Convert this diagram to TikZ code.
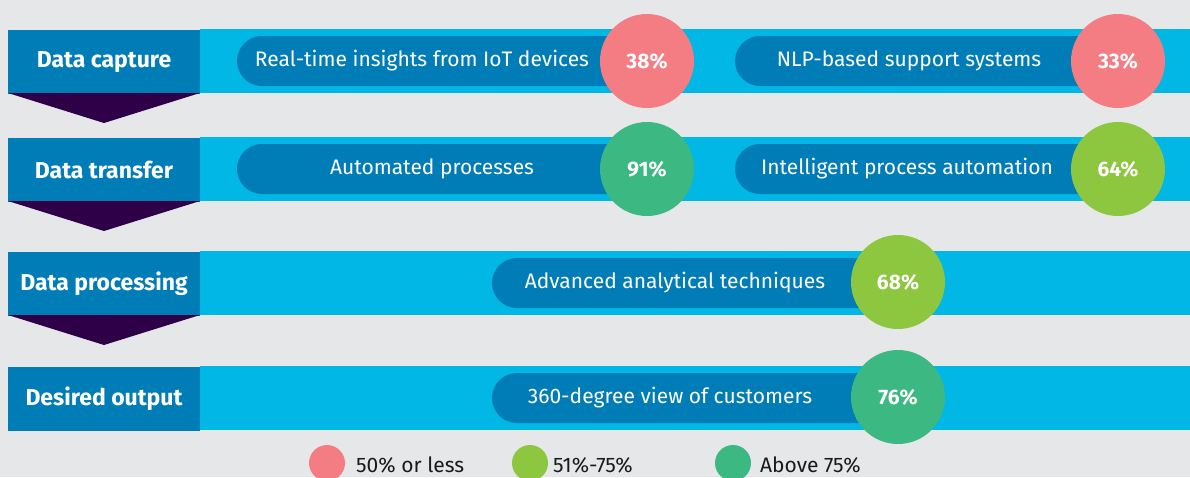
\documentclass[tikz,border=0pt]{standalone}
\usepackage{fontspec}
\setmainfont{Fira Sans}
\definecolor{bgc}{HTML}{E6E7E9}
\definecolor{bandc}{HTML}{00B7E6}
\definecolor{darkb}{HTML}{007CB7}
\definecolor{purp}{HTML}{2E0048}
\definecolor{pinkc}{HTML}{F47D84}
\definecolor{limec}{HTML}{8DC63F}
\definecolor{tealc}{HTML}{3CB882}
\definecolor{txtc}{HTML}{1A1A1A}
\tikzset{
  band/.style={fill=bandc},
  labelbox/.style={fill=darkb, text=white, minimum width=192pt, minimum height=64pt, inner sep=0pt, font=\fontsize{23}{26}\selectfont\bfseries},
  tri/.style={fill=purp},
  pill/.style={fill=darkb, rounded corners=25pt},
  pilltext/.style={text=white, inner sep=0pt, font=\fontsize{21}{24}\selectfont},
  circ/.style={circle, minimum size=94pt, inner sep=0pt, text=white, font=\fontsize{21}{24}\selectfont\bfseries},
  legc/.style={circle, minimum size=36pt, inner sep=0pt},
  legt/.style={anchor=west, text=txtc, inner sep=0pt, font=\fontsize{21}{24}\selectfont}
}
\begin{document}
\begin{tikzpicture}[x=1pt,y=-1pt]
\fill[bgc] (0,0) rectangle (1190,477);
\useasboundingbox (0,0) rectangle (1190,477);
% row 1
\fill[band] (200,29) rectangle (1190,93);
\node[labelbox] (l1) at (104,62) {Data capture};
\fill[tri] (8,93) -- (200,93) -- (104,123) -- cycle;
\fill[pill] (237,36) rectangle (660,86);
\node[pilltext] (p1a) at (422,61) {Real-time insights from IoT devices};
\node[circ, fill=pinkc] (c1a) at (647,61) {38\%};
\fill[pill] (735,36) rectangle (1130,86);
\node[pilltext] (p1b) at (909,61) {NLP-based support systems};
\node[circ, fill=pinkc] (c1b) at (1118,61) {33\%};
% row 2
\fill[band] (200,137) rectangle (1190,201);
\node[labelbox] (l2) at (104,170) {Data transfer};
\fill[tri] (8,201) -- (200,201) -- (104,231) -- cycle;
\fill[pill] (237,144) rectangle (660,194);
\node[pilltext] (p2a) at (432,169) {Automated processes};
\node[circ, fill=tealc] (c2a) at (647,169) {91\%};
\fill[pill] (735,144) rectangle (1130,194);
\node[pilltext] (p2b) at (907,169) {Intelligent process automation};
\node[circ, fill=limec] (c2b) at (1118,169) {64\%};
% row 3
\fill[band] (200,251) rectangle (1190,315);
\node[labelbox] (l3) at (104,284) {Data processing};
\fill[tri] (8,315) -- (200,315) -- (104,345) -- cycle;
\fill[pill] (492,258) rectangle (910,308);
\node[pilltext] (p3) at (675,283) {Advanced analytical techniques};
\node[circ, fill=limec] (c3) at (898,282) {68\%};
% row 4
\fill[band] (200,366) rectangle (1190,430);
\node[labelbox] (l4) at (104,399) {Desired output};
\fill[pill] (492,373) rectangle (910,423);
\node[pilltext] (p4) at (670,398) {360-degree view of customers};
\node[circ, fill=tealc] (c4) at (898,397) {76\%};
% legend
\node[legc, fill=pinkc] (g1) at (327,463) {};
\node[legt] (t1) at (356,465) {50\% or less};
\node[legc, fill=limec] (g2) at (530,463) {};
\node[legt] (t2) at (553,465) {51\%-75\%};
\node[legc, fill=tealc] (g3) at (733,463) {};
\node[legt] (t3) at (760,465) {Above 75\%};
\end{tikzpicture}
\end{document}
